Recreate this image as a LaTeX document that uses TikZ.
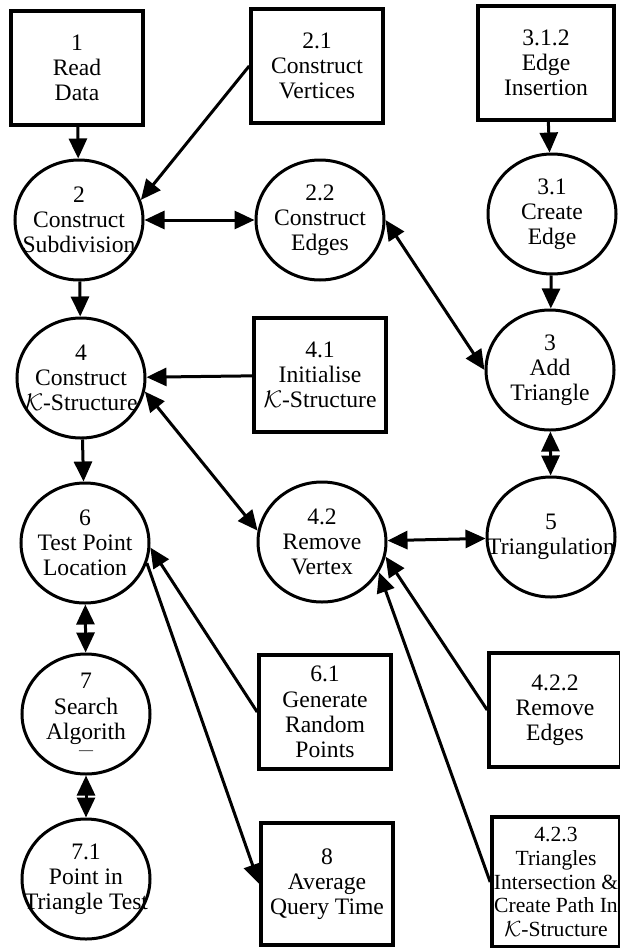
\documentclass[tikz,border=0pt]{standalone}
\usepackage{fontspec}
\setmainfont{Liberation Serif}
\usetikzlibrary{arrows.meta,shapes.geometric}

\begin{document}
\begin{tikzpicture}[x=0.5pt,y=-0.5pt,font=\fontsize{11.8}{12.6}\selectfont,
  process/.style={ellipse,draw,line width=1.5pt,align=center,minimum width=64pt,minimum height=60pt,inner xsep=-10pt,inner ysep=0pt},
  entity/.style={rectangle,draw,line width=1.8pt,align=center,minimum width=66pt,minimum height=57pt,inner sep=0pt},
  flow/.style={line width=1.5pt,-{Triangle[length=10pt,width=9pt]}},
  twoway/.style={line width=1.5pt,{Triangle[length=10pt,width=9pt]}-{Triangle[length=10pt,width=9pt]}}]
      \useasboundingbox (0,0) rectangle (620,948);
      \node[entity] (entity 1) at (77,68) {1\\Read\\Data};
      \node[entity] (entity 2-1) at (317,66) {2.1\\Construct\\Vertices};
      \node[entity,minimum width=68pt] (entity 3-1-2) at (546,63) {3.1.2\\Edge\\Insertion};
      \node[process] (process 2) at (79,220) {2\\Construct\\Subdivision};
      \node[process] (process 2-2) at (320,220) {2.2\\Construct\\Edges};
      \node[process] (process 3-1) at (552,214) {3.1\\Create\\Edge};
      \node[process] (process 4) at (81,378) {4\\Construct\\$\mathcal{K}$-Structure};
      \node[entity] (entity 4-1) at (320,375) {4.1\\Initialise\\$\mathcal{K}$-Structure};
      \node[process] (process 3) at (550,370) {3\\Add\\Triangle};
      \node[process] (process 6) at (85,543) {6\\Test Point\\Location};
      \node[process] (process 4-2) at (322,542) {4.2\\Remove\\Vertex};
      \node[process] (process 5) at (551,537) {5\\Triangulation};
      \node[process] (process 7) at (86,714) {7\\Search\\Algorith\\[-5pt]{\scriptsize ---}};
      \node[entity] (entity 6-1) at (325,712) {6.1\\Generate\\Random\\Points};
      \node[entity] (entity 4-2-2) at (555,710) {4.2.2\\Remove\\Edges};
      \node[process] (process 7-1) at (86,879) {7.1\\Point in\\Triangle Test};
      \node[entity,minimum height=61pt] (entity 8) at (327,884) {8\\Average\\Query Time};
      \node[entity,minimum height=65pt,minimum width=64pt,font=\fontsize{10.8}{11.8}\selectfont] (entity 4-2-3) at (556,882) {4.2.3\\Triangles\\Intersection \&\\Create Path In\\$\mathcal{K}$-Structure};
      \draw[flow] (entity 1) -- (process 2);
      \draw[flow] (entity 2-1.west) -- (process 2.18);
      \draw[twoway] (process 2) -- (process 2-2);
      \draw[flow] (entity 3-1-2) -- (process 3-1);
      \draw[flow] (process 3-1) -- (process 3);
      \draw[twoway] (process 2-2.east) -- (process 3.west);
      \draw[flow] (process 2) -- (process 4);
      \draw[flow] (entity 4-1) -- (process 4);
      \draw[twoway] (process 4.-12) -- (process 4-2.170);
      \draw[flow] (process 4) -- (process 6);
      \draw[twoway] (process 3) -- (process 5);
      \draw[twoway] (process 4-2) -- (process 5);
      \draw[twoway] (process 6) -- (process 7);
      \draw[twoway] (process 7) -- (process 7-1);
      \draw[flow] (entity 6-1.west) -- (process 6.-4);
      \draw[flow] (process 6.-18) -- (entity 8.west);
      \draw[flow] (entity 4-2-2.west) -- (process 4-2.-13);
      \draw[flow] (entity 4-2-3.west) -- (process 4-2.-28);
    \end{tikzpicture}
\end{document}
